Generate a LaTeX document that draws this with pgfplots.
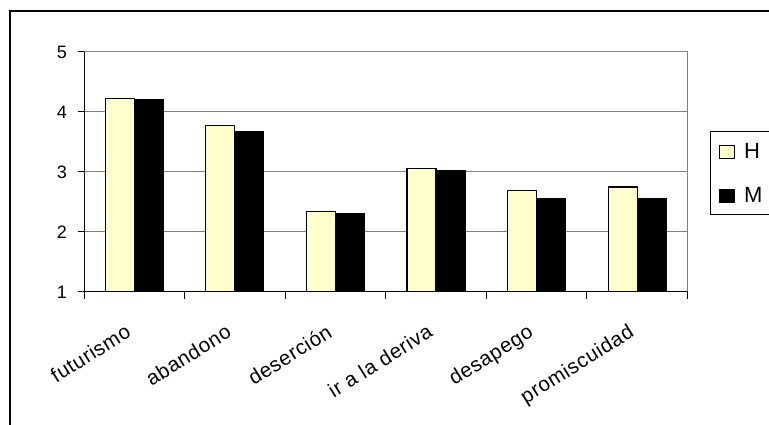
\documentclass[border=0pt]{standalone}
\usepackage{pgfplots}
\pgfplotsset{compat=1.18}
\usepackage{fontspec}
\setmainfont{Liberation Sans}
\definecolor{hcol}{RGB}{255,255,204}
\definecolor{gridgray}{RGB}{128,128,128}
\begin{document}
\begin{tikzpicture}[x=1pt,y=1pt]
\useasboundingbox (0,0) rectangle (769,425);
\draw[line width=2pt] (10,-10) -- (10,413.5) -- (790,413.5);
\begin{axis}[
  at={(84pt,133pt)}, anchor=south west,
  scale only axis, width=603.5pt, height=240pt,
  xmin=-0.5, xmax=5.5, ymin=1, ymax=5,
  ytick={1,2,3,4,5},
  xtick={0,1,2,3,4,5},
  xticklabels={futurismo,abandono,deserción,ir a la deriva,desapego,promiscuidad},
  minor xtick={-0.5,0.5,1.5,2.5,3.5,4.5,5.5},
  major x tick style={draw=none},
  minor x tick style={black, line width=1pt},
  ytick style={black, line width=1pt},
  minor tick length=7pt,
  major tick length=6pt,
  tick align=outside,
  xtick pos=bottom, ytick pos=left,
  ymajorgrids,
  grid style={gridgray, line width=1pt},
  axis line style={gridgray, line width=1pt},
  /pgf/number format/assume math mode=true,
  yticklabel style={font=\fontsize{18}{21}\selectfont, anchor=east, inner sep=0pt, xshift=-11pt},
  xticklabel style={font=\fontsize{20.5}{24}\selectfont\addfontfeature{LetterSpace=3}, xshift=-10pt, yshift=-25pt, rotate=32, anchor=north east, inner sep=0pt},
  ybar=0pt, bar width=29pt,
  legend style={at={(1.038,0.672)}, anchor=north west, draw=black, line width=1pt,
    font=\fontsize{22}{26}\selectfont, row sep=27pt, inner xsep=8pt, inner ysep=11.5pt,
    nodes={inner sep=0pt, text height=16pt, text depth=0pt}, column sep=9pt},
  legend cell align=left,
]
\addplot[fill=hcol, draw=black, line width=1.2pt,
  legend image code/.code={\draw[fill=hcol, draw=black, line width=1.2pt] (0pt,-8pt) rectangle (15pt,5pt);}]
  coordinates {(0,4.23) (1,3.77) (2,2.34) (3,3.06) (4,2.69) (5,2.75)};
\addplot[fill=black, draw=black, line width=1.2pt,
  legend image code/.code={\draw[fill=black, draw=black, line width=1.2pt] (0pt,-8pt) rectangle (15pt,5pt);}]
  coordinates {(0,4.21) (1,3.68) (2,2.31) (3,3.03) (4,2.55) (5,2.55)};
\legend{H,M}
\draw[black, line width=1pt] (rel axis cs:0,1) -- (rel axis cs:0,0) -- (rel axis cs:1,0);
\end{axis}
\end{tikzpicture}
\end{document}
